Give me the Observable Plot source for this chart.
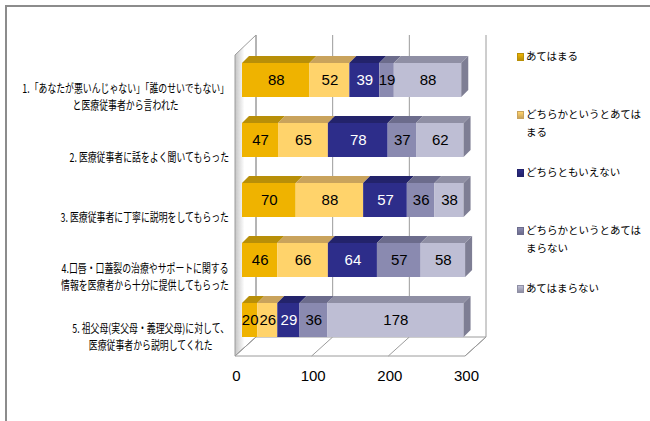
<!DOCTYPE html>
<html><head><meta charset="utf-8">
<script src="https://cdn.jsdelivr.net/npm/d3@7"></script>
<script src="https://cdn.jsdelivr.net/npm/@observablehq/plot@0.6"></script>
<style>
body{margin:0;background:#fff;}
#wrap{position:relative;width:650px;height:421px;overflow:hidden;background:#fff;}
#wrap svg{position:absolute;left:0;top:0;}
.frame-top{position:absolute;left:5px;top:5px;width:645px;height:0;border-top:2px solid #8c8c8c;}
.frame-left{position:absolute;left:5px;top:5px;width:0;height:416px;border-left:2px solid #8c8c8c;}
.item{position:absolute;left:517px;display:flex;align-items:flex-start;white-space:pre;line-height:18px;font-family:"Noto Sans CJK JP",sans-serif;font-size:10.5px;color:#000;}
.sw{width:5px;height:6px;margin-top:6px;margin-right:2px;border:1px solid;flex:none;}
</style></head><body><div id="wrap"></div>
<script>
// ---- data ----
const categories = [
  "1.「あなたが悪いんじゃない」「誰のせいでもない」\nと医療従事者から言われた",
  "2. 医療従事者に話をよく聞いてもらった",
  "3. 医療従事者に丁寧に説明をしてもらった",
  "4.口唇・口蓋裂の治療やサポートに関する\n情報を医療者から十分に提供してもらった",
  "5. 祖父母(実父母・義理父母)に対して、\n医療従事者から説明してくれた"
];
const seriesNames = ["あてはまる", "どちらかというとあてはまる", "どちらともいえない", "どちらかというとあてはまらない", "あてはまらない"];
const legendLabels = ["あてはまる", "どちらかというとあては\nまる", "どちらともいえない", "どちらかというとあては\nまらない", "あてはまらない"];
const s1 = [88, 47, 70, 46, 20];
const s2 = [52, 65, 88, 66, 26];
const s3 = [39, 78, 57, 64, 29];
const s4 = [19, 37, 36, 57, 36];
const s5 = [88, 62, 38, 58, 178];
const seriesValues = [s1, s2, s3, s4, s5];
const xTicks = [0, 100, 200, 300];

// ---- styles ----
const frontColors = ["#EFB300", "#FFD36B", "#2D2D8A", "#8A8AB0", "#BEBED4"];
const topColors = ["#B88F08", "#C9A35C", "#23236B", "#6C6C8C", "#8F8FA4"];
const sideColor = "#7E7E94";
const lineColor = "#9c9c9c";
const numFont = "'Liberation Sans Narrow','Liberation Sans',Arial,sans-serif";

const rows = categories.flatMap((c, i) => seriesNames.map((s, j) => ({cat: c, series: s, si: j, value: seriesValues[j][i]})));

const DEPTH = 7, INSET = 13;

function wallMark(index, scales, values, dims) {
  const x = scales.x;
  const g = d3.create("svg:g");
  const top = dims.marginTop, bot = dims.height - dims.marginBottom;
  const xmax = x.domain()[1];
  const xf = v => x(v) - 7, xb = v => x(v) + 14;
  const yBT = top - 15, yFT = top + 5, yFF = bot + 6, yFB = bot - 13;
  const defs = g.append("defs");
  const lg = defs.append("linearGradient").attr("id", "wallGrad").attr("x1", 0).attr("x2", 1).attr("y1", 0).attr("y2", 0);
  lg.append("stop").attr("offset", "0%").attr("stop-color", "#c4c4c4");
  lg.append("stop").attr("offset", "45%").attr("stop-color", "#ffffff");
  lg.append("stop").attr("offset", "100%").attr("stop-color", "#ffffff");
  g.append("polygon")
    .attr("points", [[xf(0), yFT], [xb(0), yBT], [xb(0), yFB], [xf(0), yFF]].map(p => p.join(",")).join(" "))
    .attr("fill", "url(#wallGrad)").attr("stroke", lineColor);
  g.append("polygon")
    .attr("points", [[xf(0), yFF], [xb(0), yFB], [xb(xmax), yFB], [xf(xmax), yFF]].map(p => p.join(",")).join(" "))
    .attr("fill", "#fff").attr("stroke", lineColor);
  for (const v of xTicks) {
    g.append("line").attr("x1", xb(v)).attr("x2", xb(v)).attr("y1", yBT).attr("y2", yFB).attr("stroke", lineColor);
    g.append("line").attr("x1", xf(v)).attr("x2", xb(v)).attr("y1", yFF).attr("y2", yFB).attr("stroke", lineColor);
  }
  return g.node();
}

function topMark(index, scales, values, dims) {
  const x = scales.x, y = scales.y;
  const bw = typeof y.bandwidth === "function" ? y.bandwidth() : 60;
  const h = bw - 2 * INSET;
  const g = d3.create("svg:g");
  categories.forEach((c, i) => {
    const y0 = y(c) + INSET;
    let acc = 0;
    seriesValues.forEach((arr, j) => {
      const a = acc, b = acc + arr[i];
      acc = b;
      g.append("polygon")
        .attr("points", [[x(a), y0], [x(b), y0], [x(b) + DEPTH, y0 - DEPTH], [x(a) + DEPTH, y0 - DEPTH]].map(p => p.join(",")).join(" "))
        .attr("fill", topColors[j]);
      if (j === seriesValues.length - 1) {
        g.append("polygon")
          .attr("points", [[x(b), y0], [x(b) + DEPTH, y0 - DEPTH], [x(b) + DEPTH, y0 + h - DEPTH], [x(b), y0 + h]].map(p => p.join(",")).join(" "))
          .attr("fill", sideColor);
      }
    });
  });
  return g.node();
}

const plot = Plot.plot({
  width: 650, height: 421,
  marginLeft: 242, marginRight: 178, marginTop: 50, marginBottom: 71,
  x: {domain: [0, 300], axis: null},
  y: {domain: categories, axis: null, padding: 0},
  color: {domain: seriesNames, range: frontColors},
  style: {background: "transparent", overflow: "visible"},
  marks: [
    wallMark,
    Plot.barX(rows, Plot.stackX({x: "value", y: "cat", fill: "series", insetTop: INSET, insetBottom: INSET})),
    topMark,
    Plot.text(rows, Plot.stackX({x: "value", y: "cat", text: d => d.si === 2 ? "" : String(d.value), fill: "black", fontSize: 15, fontFamily: numFont})),
    Plot.text(rows, Plot.stackX({x: "value", y: "cat", text: d => d.si === 2 ? String(d.value) : "", fill: "white", fontSize: 15, fontFamily: numFont})),
    Plot.text(categories, {y: d => d, text: d => d, frameAnchor: "left", dx: -110, dy: 16, textAnchor: "middle", lineHeight: 1.4, fontSize: 12, fontFamily: "Noto Sans CJK JP", fill: "black", ariaDescription: "catlabels"}),
    Plot.text(xTicks, {x: d => d, text: d => String(d), frameAnchor: "bottom", dx: -6, dy: 30, fontSize: 15, fontFamily: numFont, fill: "black"})
  ]
});

const wrap = document.getElementById("wrap");
wrap.appendChild(plot);

// condense and right-align category labels
function adjustLabels() {
  const svgLeft = plot.getBoundingClientRect().left;
  const R = 229, s = 0.74;
  let texts = Array.from(plot.querySelectorAll('g[aria-description="catlabels"] text'));
  if (!texts.length) {
    texts = Array.from(plot.querySelectorAll("text")).filter(t => /[ぁ-んァ-ン一-龥]/.test(t.textContent));
  }
  for (const t of texts) {
    let g = t.parentNode;
    if (!(g.dataset && g.dataset.wrapped)) {
      g = document.createElementNS("http://www.w3.org/2000/svg", "g");
      g.dataset.wrapped = "1";
      t.parentNode.insertBefore(g, t);
      g.appendChild(t);
    }
    g.removeAttribute("transform");
    const right0 = t.getBoundingClientRect().right - svgLeft;
    let T = R - s * right0;
    g.setAttribute("transform", `translate(${T},0) scale(${s},1)`);
    const right1 = t.getBoundingClientRect().right - svgLeft;
    T += R - right1;
    g.setAttribute("transform", `translate(${T},0) scale(${s},1)`);
  }
}
adjustLabels();
if (document.fonts && document.fonts.ready) document.fonts.ready.then(() => requestAnimationFrame(adjustLabels));

// frame lines
const ft = document.createElement("div"); ft.className = "frame-top"; wrap.appendChild(ft);
const fl = document.createElement("div"); fl.className = "frame-left"; wrap.appendChild(fl);

// legend
legendLabels.forEach((lab, j) => {
  const it = document.createElement("div");
  it.className = "item";
  it.style.top = (56 + 58 * j - 9) + "px";
  const sw = document.createElement("span");
  sw.className = "sw";
  sw.style.background = `linear-gradient(${frontColors[j]}, ${topColors[j]})`;
  sw.style.borderColor = topColors[j];
  const tx = document.createElement("span");
  tx.textContent = lab;
  it.appendChild(sw); it.appendChild(tx);
  wrap.appendChild(it);
});
</script></body></html>
